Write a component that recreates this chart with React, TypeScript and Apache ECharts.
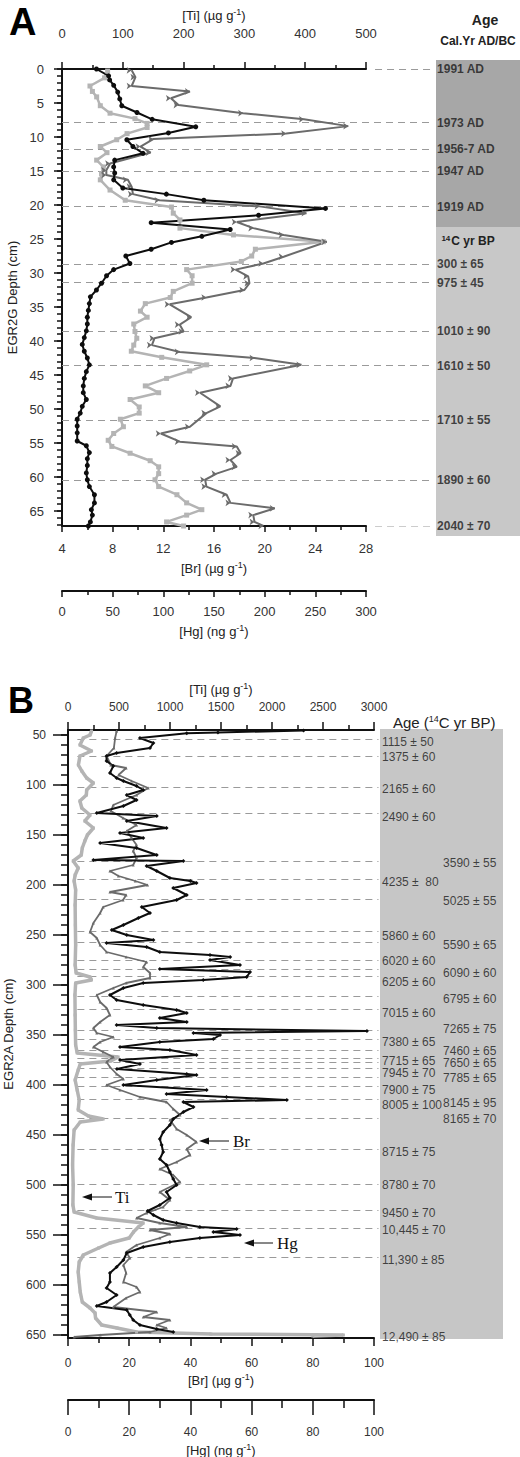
import React, { useEffect, useRef } from 'react';
import * as echarts from 'echarts';

// ---------------- Panel A data (depth cm, value) ----------------
const A_TI: [number, number][] = [
  [0.3, 75], [1.3, 70], [2.5, 46], [3.3, 50], [4.1, 57], [5.4, 63], [6.5, 79], [7.3, 120], [8.0, 140], [8.6, 140],
  [9.5, 107], [10.4, 90], [11.4, 63], [12.3, 74], [13.4, 57], [14.4, 68], [15.4, 65], [16.3, 63], [17.8, 79], [19.3, 104],
  [20.3, 180], [21.2, 183], [22.2, 194], [23.4, 194], [24.4, 282], [25.4, 430], [26.5, 318], [27.5, 312], [28.3, 295], [29.5, 205],
  [30.4, 214], [31.5, 214], [32.7, 183], [33.6, 178], [34.5, 137], [35.6, 129], [36.5, 140], [37.5, 118], [38.6, 120], [39.6, 123],
  [40.6, 118], [41.5, 114], [42.4, 164], [43.5, 238], [44.4, 210], [45.5, 172], [46.6, 137], [47.6, 159], [48.6, 112], [49.7, 127],
  [50.6, 127], [51.5, 96], [52.6, 101], [53.6, 85], [54.6, 76], [55.5, 82], [56.5, 112], [57.6, 145], [58.5, 159], [59.5, 159],
  [60.4, 153], [61.4, 159], [62.6, 189], [63.8, 205], [64.8, 230], [65.6, 205], [66.6, 172], [67.2, 200],
];
const A_BR: [number, number][] = [
  [0.2, 9.5], [1.2, 9.8], [2.5, 9.5], [3.3, 14.1], [4.3, 12.6], [5.3, 13.2], [6.5, 18.3], [7.4, 23.1], [8.4, 26.6], [9.5, 21.7],
  [10.3, 11.2], [11.4, 10.2], [12.3, 11.0], [13.9, 7.8], [14.9, 7.5], [15.6, 7.5], [16.3, 9.2], [17.3, 9.5], [18.4, 9.6], [19.3, 11.7],
  [20.2, 19.6], [21.2, 23.3], [22.5, 17.8], [23.4, 19.1], [24.4, 21.5], [25.4, 24.9], [27.6, 21.5], [28.6, 19.9], [29.5, 17.7], [30.5, 18.7],
  [31.5, 18.8], [32.5, 18.4], [33.6, 15.4], [34.6, 12.5], [36.5, 14.2], [37.6, 13.3], [38.6, 13.6], [39.6, 11.3], [40.6, 11.1], [41.6, 13.3],
  [42.5, 19.2], [43.5, 22.9], [45.5, 17.5], [46.6, 17.3], [47.6, 14.9], [49.6, 16.5], [50.6, 15.4], [52.6, 14.1], [53.6, 11.8], [54.8, 13.3],
  [55.5, 17.8], [56.5, 18.1], [57.5, 17.3], [58.5, 17.8], [59.5, 16.2], [60.4, 15.3], [61.4, 15.4], [62.6, 17.0], [63.8, 17.3], [64.6, 20.8],
  [65.6, 19.1], [66.6, 19.2], [67.2, 19.9],
];
const A_HG: [number, number][] = [
  [0, 34], [1, 46], [1.6, 47], [2.4, 51], [3.4, 55], [4.4, 57], [5.4, 59], [6.4, 74], [7.4, 89], [8.5, 132],
  [9.4, 105], [10.4, 64], [11.4, 70], [12.4, 80], [13.4, 52], [14.4, 51], [15.3, 52], [16.3, 51], [17.5, 60], [18.4, 103],
  [19.3, 140], [20.5, 260], [21.5, 194], [22.6, 88], [23.6, 166], [24.6, 138], [25.5, 108], [26.5, 88], [27.5, 63], [28.6, 67],
  [29.5, 51], [30.4, 44], [31.5, 39], [32.5, 34], [33.5, 28], [34.5, 27], [35.5, 26], [36.5, 25], [37.5, 25], [38.5, 24],
  [39.5, 22], [40.5, 20], [41.5, 22], [42.5, 25], [43.5, 27], [44.5, 24], [45.5, 22], [46.6, 21], [47.6, 21], [48.6, 24],
  [49.6, 20], [50.6, 18], [51.5, 15], [52.5, 15], [53.5, 15], [54.7, 15], [55.4, 24], [56.4, 27], [57.3, 25], [58.3, 25],
  [59.4, 24], [60.4, 25], [61.4, 27], [62.6, 32], [63.8, 32], [64.8, 29], [65.6, 30], [66.6, 28], [67.2, 26],
];
const A_DEPTH_MAX = 67.2;
const A_DEPTH_TICKS = [0, 5, 10, 15, 20, 25, 30, 35, 40, 45, 50, 55, 60, 65];
const A_AGE_LABELS = ['1991 AD', '1973 AD', '1956-7 AD', '1947 AD', '1919 AD', '300 ± 65', '975 ± 45', '1010 ± 90', '1610 ± 50', '1710 ± 55', '1890 ± 60', '2040 ± 70'];
const A_AGE_DEPTHS = [0, 7.9, 11.8, 15.05, 20.25, 28.7, 31.4, 38.5, 43.6, 51.6, 60.4, 67.2];

// ---------------- Panel B data (depth cm, value) ----------------
const B_TI: [number, number][] = [
  [46, 231], [50, 216], [53, 150], [60, 117], [66, 231], [71, 117], [80, 102], [86, 135], [93, 183], [98, 249],
  [105, 183], [110, 180], [116, 117], [123, 135], [130, 216], [136, 165], [143, 249], [150, 190], [156, 165], [163, 140],
  [170, 130], [176, 51], [183, 100], [190, 70], [196, 60], [205, 75], [220, 70], [240, 72], [260, 75], [280, 70],
  [288, 80], [292, 216], [295, 230], [298, 75], [310, 68], [330, 70], [345, 72], [360, 75], [368, 90], [372, 492],
  [376, 420], [379, 120], [385, 100], [395, 70], [405, 90], [415, 110], [425, 100], [431, 200], [434, 345], [437, 120],
  [445, 60], [460, 50], [480, 45], [500, 51], [520, 48], [527, 60], [533, 282], [538, 738], [542, 690], [547, 642],
  [553, 600], [558, 411], [563, 300], [570, 150], [577, 110], [587, 100], [597, 110], [607, 120], [617, 140], [623, 216],
  [628, 265], [633, 270], [640, 330], [643, 480], [647, 672], [649, 1400], [650, 2700], [651, 2400],
];
const B_BR: [number, number][] = [
  [46, 15.9], [53, 15.4], [63, 15], [71, 12.6], [80, 14], [83, 19], [90, 16.5], [96, 20.8], [103, 26.2], [110, 22.4],
  [120, 14.8], [126, 14], [133, 18], [140, 22.4], [146, 19.2], [153, 20.8], [160, 22.4], [166, 21.3], [173, 22.4], [180, 21.3],
  [186, 13.7], [191, 16.5], [196, 22], [200, 26], [207, 13.7], [210, 19], [215, 18], [222, 11.5], [228, 10.5], [238, 8.3],
  [247, 7.2], [253, 9.4], [260, 10.5], [267, 12.6], [272, 19], [277, 25.7], [282, 24.6], [288, 26.8], [293, 26.8], [298, 19],
  [303, 14.8], [310, 9.4], [317, 10.5], [323, 12.6], [330, 13.7], [337, 10.5], [343, 8.3], [348, 9.4], [352, 14.8], [357, 10.5],
  [362, 8.3], [367, 11.5], [372, 14.8], [377, 12.6], [382, 13.7], [389, 15.9], [394, 18.1], [400, 12.6], [405, 17], [412, 23.5],
  [417, 32.2], [424, 34.4], [430, 36.6], [435, 33.3], [444, 35.5], [450, 38.8], [457, 42], [464, 38.8], [470, 39.9], [477, 35.5],
  [484, 30], [490, 34.4], [497, 36.6], [507, 30], [515, 33.3], [522, 31.1], [528, 25.7], [533, 22.4], [538, 30], [542, 38.8],
  [545, 26.8], [549, 33.3], [553, 30], [560, 22.4], [567, 19], [573, 20.2], [580, 18.1], [588, 19], [597, 18.1], [602, 22.4],
  [607, 23.5], [613, 19], [622, 14.8], [627, 29], [632, 24.6], [635, 33.3], [640, 29], [643, 32.2], [647, 26.8], [650, 10.5],
  [652, 2],
];
const B_HG: [number, number][] = [
  [45.5, 77], [47.5, 49], [48.3, 38.8], [53, 23.5], [58, 27.9], [63, 26.8], [68, 15.9], [71, 12.6], [76, 12.6], [81, 14.8],
  [88, 13.7], [93, 15.9], [96, 18.1], [101, 22.4], [105, 24.6], [110, 19.2], [115, 22.4], [121, 18.1], [128, 9.4], [131, 29],
  [136, 19.2], [143, 32.2], [148, 17], [153, 24.6], [158, 10.5], [163, 22.4], [170, 29], [175, 8.3], [176, 37.7], [181, 25.7],
  [186, 29], [193, 33.3], [196, 40], [198, 42], [203, 34.4], [210, 38.8], [215, 35.5], [222, 24.1], [228, 26.8], [233, 23],
  [240, 18.1], [245, 14.3], [250, 19.2], [255, 27.9], [258, 12.6], [262, 25.7], [267, 30], [270, 46.4], [272, 53], [275, 46.4],
  [280, 56.2], [284, 30], [287, 59.5], [292, 58.4], [295, 44.2], [298, 24.6], [303, 18.1], [310, 13.7], [315, 15.9], [320, 24.6],
  [325, 35.5], [328, 38.8], [333, 30], [337, 38.8], [340, 15.9], [343, 29], [346, 97.7], [348, 41], [350, 49.7], [354, 47.5],
  [357, 30], [362, 17], [365, 33.3], [370, 42], [375, 17], [379, 23.5], [384, 16], [389, 38.8], [390, 42], [395, 29],
  [400, 18.1], [405, 45.3], [409, 32.2], [412, 51.8], [415, 71.5], [417, 37.7], [422, 41], [427, 37.7], [434, 34.4], [440, 33.3],
  [447, 31.1], [454, 30], [460, 30.6], [467, 31.1], [474, 30], [480, 32.2], [487, 33.3], [494, 34.4], [500, 35.5], [507, 32.2],
  [513, 33.3], [520, 30], [526, 26], [530, 27.9], [535, 31.1], [538, 35.5], [542, 43.1], [544, 55.1], [547, 47.5], [550, 56.2],
  [553, 43.1], [557, 33.3], [562, 24.6], [568, 19.2], [575, 18.1], [582, 15.9], [588, 13.7], [597, 13.7], [603, 12.6], [610, 15.9],
  [617, 12.6], [621, 9.4], [625, 19.2], [630, 20.2], [635, 21.3], [640, 23.5], [644, 29], [647, 34.4],
];
const B_DEPTH_MIN = 45;
const B_DEPTH_MAX = 653;
const B_DEPTH_TICKS = [50, 100, 150, 200, 250, 300, 350, 400, 450, 500, 550, 600, 650];
const B_LINE_DEPTHS = [54.3, 71, 102.7, 128.3, 176.7, 194, 214.3, 246, 257.7, 275, 284.3, 291, 311.7, 324.3, 345, 354.3, 365, 373.3, 377.7, 383.3, 392.3, 401, 414.3, 433.3, 464.3, 499, 525, 543.3, 572];
const B_AGES_COL1 = ['1115 ± 50', '1375 ± 60', '2165 ± 60', '2490 ± 60', '4235 ±  80', '5860 ± 60', '6020 ± 60', '6205 ± 60', '7015 ± 60', '7380 ± 65', '7715 ± 65', '7945 ± 70', '7900 ± 75', '8005 ± 100', '8715 ± 75', '8780 ± 70', '9450 ± 70', '10,445 ± 70', '11,390 ± 85', '12,490 ± 85'];
const B_AGE_DEPTHS_COL1 = [56.7, 71.7, 104, 131.7, 197.3, 250.7, 275.7, 296.7, 328, 357, 375.7, 387.7, 405, 420, 466.7, 500, 528.3, 545, 575, 652.3];
const B_AGES_COL2 = ['3590 ± 55', '5025 ± 55', '5590 ± 65', '6090 ± 60', '6795 ± 60', '7265 ± 75', '7460 ± 65', '7650 ± 65', '7785 ± 65', '8145 ± 95', '8165 ± 70'];
const B_AGE_DEPTHS_COL2 = [178, 215.7, 260, 288, 314, 343.7, 366, 377.7, 393.3, 418.3, 434.3];

// ---------------- styling ----------------
const FONT = "'Liberation Sans', Arial, sans-serif";
const AX = '#111';
const C_TI = '#b4b4b4';
const C_BR = '#6b6b6b';
const C_HG = '#0d0d0d';

const nameStyle = (size: number) => ({
  fontSize: size,
  color: '#222',
  fontFamily: FONT,
  rich: { sup: { fontSize: 9, color: '#222', fontFamily: FONT, verticalAlign: 'bottom', padding: [0, 0, 7, 0] } },
});

const plainNum = (v: number) => String(v);

function valueX(gridIndex: number, position: string, min: number, max: number, interval: number, name: string,
  o: { offset?: number; nameGap: number; margin: number; tick: number; minor: number; font: number }) {
  return {
    type: 'value', gridIndex, position, offset: o.offset || 0, min, max, interval,
    name, nameLocation: 'middle', nameGap: o.nameGap, nameTextStyle: nameStyle(13),
    axisLine: { show: true, onZero: false, lineStyle: { color: AX, width: 2 } },
    axisTick: { show: true, length: o.tick, lineStyle: { color: AX, width: 1.5 } },
    minorTick: { show: true, splitNumber: 2, length: o.minor, lineStyle: { color: AX, width: 1.5 } },
    axisLabel: { margin: o.margin, fontSize: o.font, color: '#333', fontFamily: FONT, formatter: plainNum },
    splitLine: { show: false }, minorSplitLine: { show: false },
  };
}

function depthY(gridIndex: number, min: number, max: number, ticks: number[], name: string, o: { nameGap: number; margin: number; tick: number; font: number }) {
  return {
    type: 'value', gridIndex, position: 'left', inverse: true, min, max,
    name, nameLocation: 'middle', nameGap: o.nameGap, nameTextStyle: { fontSize: 13, color: '#222', fontFamily: FONT },
    axisLine: { show: true, onZero: false, lineStyle: { color: AX, width: 2 } },
    axisTick: { show: true, length: o.tick, lineStyle: { color: AX, width: 1.5 }, customValues: ticks },
    axisLabel: { customValues: ticks, margin: o.margin, fontSize: o.font, color: '#333', fontFamily: FONT, formatter: plainNum },
    splitLine: { show: false },
  };
}

function minorY(gridIndex: number, min: number, max: number, ticks: number[], len: number) {
  return {
    type: 'value', gridIndex, position: 'left', offset: 0, inverse: true, min, max,
    axisLine: { show: false, onZero: false },
    axisTick: { show: true, length: len, lineStyle: { color: AX, width: 1.5 }, customValues: ticks },
    axisLabel: { show: false },
    splitLine: { show: false },
  };
}

function profile(name: string, data: [number, number][], xi: number, yi: number, color: string, width: number, symbol: string, size: number, rotate = 0) {
  return {
    type: 'line', name, xAxisIndex: xi, yAxisIndex: yi,
    data: data.map(([d, v]) => [v, d]),
    showSymbol: true, symbol, symbolSize: size, symbolRotate: rotate,
    itemStyle: { color },
    lineStyle: { color, width },
    silent: true, z: 3,
  };
}

function buildOption() {
  const A_GRID = { left: 62, top: 69, width: 304, height: 457 };
  const B_GRID = { left: 68, top: 730, width: 306, height: 608 };
  const aMinor = Array.from({ length: 68 }, (_, i) => i);
  const bMinor = Array.from({ length: 61 }, (_, i) => 50 + i * 10);

  return {
    animation: false,
    backgroundColor: '#fff',
    textStyle: { fontFamily: FONT },
    grid: [
      { ...A_GRID, outerBoundsMode: 'none' },
      { ...B_GRID, outerBoundsMode: 'none' },
      { left: 62, top: 69, width: 374, height: 457, outerBoundsMode: 'none' },
      { left: 68, top: 730, width: 312, height: 608, outerBoundsMode: 'none' },
    ],
    xAxis: [
      valueX(0, 'top', 0, 500, 100, '[Ti] (µg g{sup|-1})', { nameGap: 46, margin: 29, tick: 7, minor: 4, font: 13 }),
      valueX(0, 'bottom', 4, 28, 4, '[Br] (µg g{sup|-1})', { nameGap: 34, margin: 16, tick: 6, minor: 4, font: 13 }),
      valueX(0, 'bottom', 0, 300, 50, '[Hg] (ng g{sup|-1})', { offset: 65, nameGap: 32, margin: 14, tick: 6, minor: 4, font: 13 }),
      valueX(1, 'top', 0, 3000, 500, '[Ti] (µg g{sup|-1})', { nameGap: 33, margin: 17, tick: 8, minor: 5, font: 12 }),
      valueX(1, 'bottom', 0, 100, 20, '[Br] (µg g{sup|-1})', { nameGap: 34, margin: 19, tick: 8, minor: 5, font: 12 }),
      valueX(1, 'bottom', 0, 100, 20, '[Hg] (ng g{sup|-1})', { offset: 62, nameGap: 42, margin: 26, tick: 15, minor: 8, font: 12 }),
      { type: 'value', gridIndex: 2, min: 0, max: 1, show: false },
      { type: 'value', gridIndex: 3, min: 0, max: 1, show: false },
    ],
    yAxis: [
      depthY(0, 0, A_DEPTH_MAX, A_DEPTH_TICKS, 'EGR2G Depth (cm)', { nameGap: 42, margin: 18, tick: 8, font: 13 }),
      minorY(0, 0, A_DEPTH_MAX, aMinor, 5),
      depthY(1, B_DEPTH_MIN, B_DEPTH_MAX, B_DEPTH_TICKS, 'EGR2A Depth (cm)', { nameGap: 48, margin: 22, tick: 15, font: 12 }),
      minorY(1, B_DEPTH_MIN, B_DEPTH_MAX, bMinor, 7),
      { type: 'value', gridIndex: 2, inverse: true, min: 0, max: A_DEPTH_MAX, show: false },
      { type: 'value', gridIndex: 3, inverse: true, min: B_DEPTH_MIN, max: B_DEPTH_MAX, show: false },
    ],
    graphic: [
      { type: 'rect', z: -10, shape: { x: 436, y: 60, width: 84, height: 167 }, style: { fill: '#a7a7a7' } },
      { type: 'rect', z: -10, shape: { x: 436, y: 227, width: 84, height: 309 }, style: { fill: '#c8c8c8' } },
      { type: 'rect', z: -10, shape: { x: 380, y: 729, width: 123, height: 610 }, style: { fill: '#c6c6c6' } },
      { type: 'text', x: 9, y: 3, style: { text: 'A', fontSize: 38, fontWeight: 'bold', fontFamily: FONT, fill: '#000' } },
      { type: 'text', x: 8, y: 682, style: { text: 'B', fontSize: 36, fontWeight: 'bold', fontFamily: FONT, fill: '#000' } },
      { type: 'text', x: 485, y: 20, style: { text: 'Age', fontSize: 14, fontWeight: 'bold', fontFamily: FONT, fill: '#222', align: 'center', verticalAlign: 'middle' } },
      { type: 'text', x: 478, y: 41, style: { text: 'Cal.Yr AD/BC', fontSize: 12, fontWeight: 'bold', fontFamily: FONT, fill: '#222', align: 'center', verticalAlign: 'middle' } },
      {
        type: 'text', x: 468, y: 241, style: {
          text: '{s|14}C yr BP', fontSize: 12, fontWeight: 'bold', fontFamily: FONT, fill: '#222', align: 'center', verticalAlign: 'middle',
          rich: { s: { fontSize: 8, fontWeight: 'bold', fontFamily: FONT, fill: '#222', verticalAlign: 'bottom', padding: [0, 1, 6, 0] } },
        },
      },
      {
        type: 'text', x: 393, y: 722, style: {
          text: 'Age ({s|14}C yr BP)', fontSize: 15, fontFamily: FONT, fill: '#222', verticalAlign: 'middle',
          rich: { s: { fontSize: 9, fontFamily: FONT, fill: '#222', verticalAlign: 'bottom', padding: [0, 0, 7, 0] } },
        },
      },
      // annotations in panel B
      { type: 'line', shape: { x1: 207, y1: 1141, x2: 229, y2: 1141 }, style: { stroke: '#111', lineWidth: 1 } },
      { type: 'polygon', shape: { points: [[199, 1141], [209, 1137.5], [209, 1144.5]] }, style: { fill: '#111' } },
      { type: 'text', x: 233, y: 1141, style: { text: 'Br', fontSize: 17, fontFamily: "'Liberation Serif', serif", fill: '#111', verticalAlign: 'middle' } },
      { type: 'line', shape: { x1: 90, y1: 1197, x2: 112, y2: 1197 }, style: { stroke: '#111', lineWidth: 1 } },
      { type: 'polygon', shape: { points: [[82, 1197], [92, 1193.5], [92, 1200.5]] }, style: { fill: '#111' } },
      { type: 'text', x: 115, y: 1197, style: { text: 'Ti', fontSize: 17, fontFamily: "'Liberation Serif', serif", fill: '#111', verticalAlign: 'middle' } },
      { type: 'line', shape: { x1: 252, y1: 1243, x2: 273, y2: 1243 }, style: { stroke: '#111', lineWidth: 1 } },
      { type: 'polygon', shape: { points: [[244, 1243], [254, 1239.5], [254, 1246.5]] }, style: { fill: '#111' } },
      { type: 'text', x: 277, y: 1243, style: { text: 'Hg', fontSize: 17, fontFamily: "'Liberation Serif', serif", fill: '#111', verticalAlign: 'middle' } },
    ],
    series: [
      {
        type: 'lines', coordinateSystem: 'cartesian2d', xAxisIndex: 6, yAxisIndex: 4, silent: true, z: 1,
        lineStyle: { color: '#9a9a9a', width: 1, type: [7, 5], opacity: 1 },
        data: A_AGE_DEPTHS.map((d) => ({ coords: [[d < 0.5 || d > 67 ? 0.837 : 0, d], [0.985, d]] })),
      },
      {
        type: 'lines', coordinateSystem: 'cartesian2d', xAxisIndex: 7, yAxisIndex: 5, silent: true, z: 1,
        lineStyle: { color: '#9a9a9a', width: 1.2, type: [7, 5], opacity: 1 },
        data: B_LINE_DEPTHS.map((d) => ({ coords: [[0.03, d], [0.995, d]] })),
      },
      {
        type: 'scatter', xAxisIndex: 6, yAxisIndex: 4, symbolSize: 0.1, silent: true, itemStyle: { color: 'rgba(0,0,0,0)' },
        data: A_AGE_LABELS.map((t, i) => ({ value: [1, A_AGE_DEPTHS[i]], name: t })),
        label: { show: true, position: 'right', distance: 1, formatter: '{b}', fontSize: 12, fontWeight: 'bold', color: '#1a1a1a', fontFamily: FONT },
      },
      {
        type: 'scatter', xAxisIndex: 7, yAxisIndex: 5, symbolSize: 0.1, silent: true, itemStyle: { color: 'rgba(0,0,0,0)' },
        data: B_AGES_COL1.map((t, i) => ({ value: [1, B_AGE_DEPTHS_COL1[i]], name: t })),
        label: { show: true, position: 'right', distance: 2, formatter: '{b}', fontSize: 12, color: '#1a1a1a', fontFamily: FONT },
      },
      {
        type: 'scatter', xAxisIndex: 7, yAxisIndex: 5, symbolSize: 0.1, silent: true, itemStyle: { color: 'rgba(0,0,0,0)' },
        data: B_AGES_COL2.map((t, i) => ({ value: [1, B_AGE_DEPTHS_COL2[i]], name: t })),
        label: { show: true, position: 'right', distance: 63, formatter: '{b}', fontSize: 12, color: '#1a1a1a', fontFamily: FONT },
      },
      profile('Ti A', A_TI, 0, 0, C_TI, 2.5, 'rect', 5),
      profile('Br A', A_BR, 1, 0, C_BR, 2, 'arrow', 5, -90),
      profile('Hg A', A_HG, 2, 0, C_HG, 2, 'circle', 5),
      profile('Ti B', B_TI, 3, 2, C_TI, 3.5, 'rect', 3),
      profile('Br B', B_BR, 4, 2, C_BR, 1.8, 'triangle', 3),
      profile('Hg B', B_HG, 5, 2, C_HG, 2, 'diamond', 4),
    ],
  };
}

export default function App() {
  const ref = useRef<HTMLDivElement>(null);
  useEffect(() => {
    if (!ref.current) return;
    const chart = echarts.init(ref.current, null, { renderer: 'svg' });
    chart.setOption(buildOption() as any);
    return () => chart.dispose();
  }, []);
  return <div ref={ref} style={{ position: 'absolute', left: 0, top: 0, width: 520, height: 1457, background: '#fff' }} />;
}
